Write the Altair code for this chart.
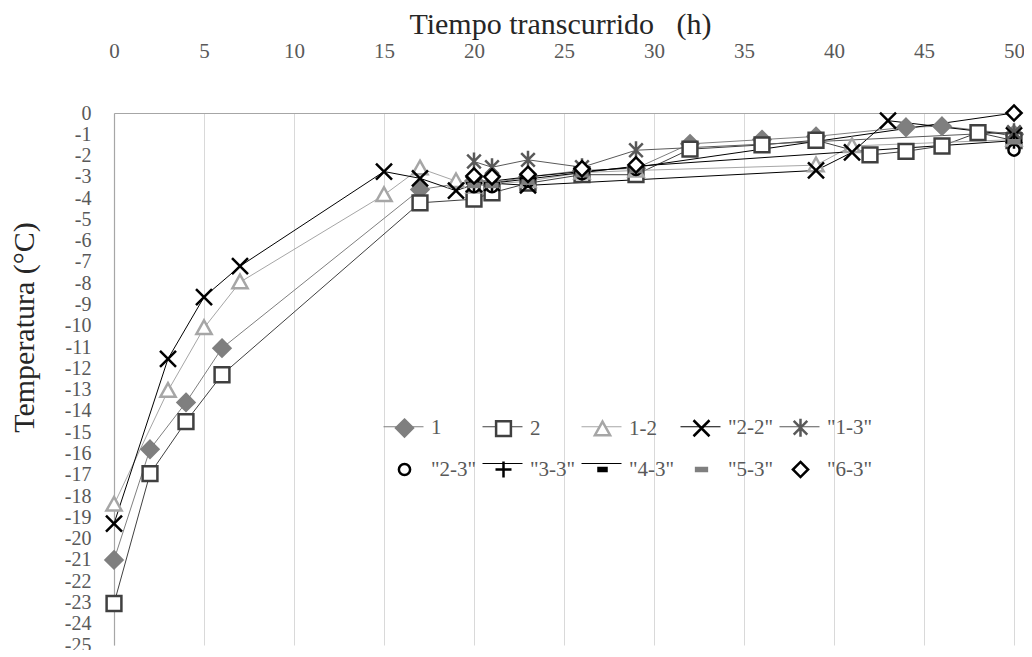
import altair as alt
import pandas as pd

series_names = ["1", "2", "1-2", '"2-2"', '"1-3"', '"2-3"', '"3-3"', '"4-3"', '"5-3"', '"6-3"']

hours_1 = [0, 2, 4, 6, 17, 20, 21, 23, 26, 29, 32, 36, 39, 44, 46, 50]
temp_1 = [-21.0, -15.8, -13.6, -11.05, -3.6, -3.2, -3.3, -3.0, -2.7, -2.6, -1.45, -1.25, -1.1, -0.67, -0.62, -1.0]

hours_2 = [0, 2, 4, 6, 17, 20, 21, 23, 26, 29, 32, 36, 39, 42, 44, 46, 48, 50]
temp_2 = [-23.05, -16.95, -14.5, -12.3, -4.22, -4.05, -3.75, -3.3, -2.9, -2.9, -1.7, -1.5, -1.28, -1.97, -1.8, -1.55, -0.92, -1.3]

hours_12 = [0, 3, 5, 7, 15, 17, 19, 20, 21, 23, 26, 29, 39, 41, 50]
temp_12 = [-18.4, -13.05, -10.1, -7.95, -3.85, -2.6, -3.2, -3.45, -3.35, -3.2, -2.8, -2.7, -2.45, -1.55, -1.25]

hours_22 = [0, 3, 5, 7, 15, 17, 19, 20, 21, 23, 39, 41, 43, 50]
temp_22 = [-19.3, -11.55, -8.65, -7.2, -2.75, -3.07, -3.65, -3.35, -3.3, -3.4, -2.7, -1.85, -0.36, -1.05]

hours_3 = [20, 21, 23, 26, 29, 50]
temp_13 = [-2.28, -2.55, -2.2, -2.55, -1.75, -0.9]
temp_23 = [-3.46, -3.46, -3.2, -2.85, -2.65, -1.74]
temp_33 = [-3.3, -3.3, -3.1, -2.8, -2.5, -1.3]
temp_43 = [-3.2, -3.2, -3.0, -2.75, -2.55, 0.0]
temp_53 = [-3.4, -3.4, -3.25, -2.9, -2.7, -1.35]
temp_63 = [-2.96, -3.0, -2.88, -2.62, -2.44, 0.0]

series_hours = [hours_1, hours_2, hours_12, hours_22, hours_3, hours_3, hours_3, hours_3, hours_3, hours_3]
series_temps = [temp_1, temp_2, temp_12, temp_22, temp_13, temp_23, temp_33, temp_43, temp_53, temp_63]

rows = []
for order, (name, hs, ts) in enumerate(zip(series_names, series_hours, series_temps)):
    for h, t in zip(hs, ts):
        rows.append({"serie": name, "orden": order, "horas": h, "temp": t})
df = pd.DataFrame(rows)

line_colors = ["#7f7f7f", "#404040", "#a6a6a6", "#000000", "#595959",
               "transparent", "#000000", "#000000", "transparent", "transparent"]
stroke_colors = ["#7f7f7f", "#404040", "#a6a6a6", "#000000", "#595959",
                 "#000000", "#000000", "#000000", "#7f7f7f", "#000000"]
fill_colors = ["#7f7f7f", "white", "white", "white", "white",
               "white", "white", "#000000", "#7f7f7f", "white"]
shape_paths = [
    "M0,-0.42L0.42,0L0,0.42L-0.42,0Z",
    "M-0.37,-0.37H0.37V0.37H-0.37Z",
    "M0,-0.38L0.38,0.3H-0.38Z",
    "M-0.4,-0.4L0.4,0.4M-0.4,0.4L0.4,-0.4",
    "M-0.34,-0.34L0.34,0.34M-0.34,0.34L0.34,-0.34M0,-0.45V0.45",
    "M-0.28,0A0.28,0.28,0,1,0,0.28,0A0.28,0.28,0,1,0,-0.28,0Z",
    "M-0.4,0H0.4M0,-0.4V0.4",
    "M-0.2,-0.07H0.2V0.07H-0.2Z",
    "M-0.27,-0.08H0.27V0.08H-0.27Z",
    "M0,-0.38L0.38,0L0,0.38L-0.38,0Z",
]


def lookup_expr(values):
    expr = "'black'"
    for name, val in reversed(list(zip(series_names, values))):
        expr = "datum.value === '" + name + "' ? '" + val + "' : (" + expr + ")"
    return expr


FONT = "Liberation Serif"
LEG_X, LEG_Y = 269, 293
LABEL_OFFSET = 5
MAX_LABEL_W = 45.1  # width of '"2-2"' at 21px Liberation Serif

x_enc = alt.X(
    "horas:Q",
    scale=alt.Scale(domain=[0, 50], nice=False),
    axis=alt.Axis(
        orient="top", values=list(range(0, 51, 5)), grid=True, gridColor="#d9d9d9",
        ticks=False, domainColor="#a6a6a6", domainWidth=1.2, labelPadding=52,
        labelFont=FONT, labelFontSize=21, labelColor="#595959", labelFlush=False,
        title="Tiempo transcurrido\u00a0\u00a0\u00a0(h)", titleFont=FONT, titleFontSize=30,
        titleFontWeight="normal", titleColor="#262626",
        titleX=446, titleY=-74, titleAlign="center", titleBaseline="bottom",
    ),
)
y_enc = alt.Y(
    "temp:Q",
    scale=alt.Scale(domain=[-25, 0], nice=False),
    axis=alt.Axis(
        values=list(range(-25, 1)), grid=False, ticks=False, domainColor="#a6a6a6",
        domainWidth=1.2, labelPadding=23, labelOverlap=False, labelFlush=False,
        labelFont=FONT, labelFontSize=20, labelColor="#595959",
        labelExpr="datum.value < 0 ? '-' + (-datum.value) : '' + datum.value",
        title="Temperatura (°C)", titleFont=FONT, titleFontSize=30,
        titleFontWeight="normal", titleColor="#262626",
        titleAngle=270, titleX=-75, titleY=214, titleAlign="center", titleBaseline="bottom",
    ),
)

common_legend = dict(
    title=None, orient="none", direction="horizontal", legendX=LEG_X, legendY=LEG_Y,
    columns=5, gridAlign="all", columnPadding=5, rowPadding=6, symbolSize=1600,
    labelFont=FONT, labelFontSize=21, padding=0, labelLimit=0,
)

lines = alt.Chart(df).mark_line(strokeWidth=1).encode(
    x=x_enc,
    y=y_enc,
    color=alt.Color(
        "orden:N",
        scale=alt.Scale(domain=list(range(len(series_names))), range=line_colors),
        legend=alt.Legend(
            symbolType="M-1,0H1", symbolStrokeWidth=1, labelOpacity=0,
            labelExpr="''", labelOffset=LABEL_OFFSET + MAX_LABEL_W,
            **common_legend,
        ),
    ),
    order=alt.Order("horas:Q"),
)

pt_legend = alt.Legend(
    symbolStrokeWidth=2.5, labelColor="#595959", labelOffset=LABEL_OFFSET,
    symbolFillColor=alt.ExprRef(expr=lookup_expr(fill_colors)),
    symbolStrokeColor=alt.ExprRef(expr=lookup_expr(stroke_colors)),
    symbolOpacity=1,
    **common_legend,
)
points = alt.Chart(df).mark_point(filled=True, size=1600, strokeWidth=2.5, opacity=1).encode(
    x=x_enc,
    y=y_enc,
    shape=alt.Shape("serie:N", scale=alt.Scale(domain=series_names, range=shape_paths), legend=pt_legend),
    stroke=alt.Stroke("serie:N", scale=alt.Scale(domain=series_names, range=stroke_colors), legend=None),
    fill=alt.Fill("serie:N", scale=alt.Scale(domain=series_names, range=fill_colors), legend=None),
    order=alt.Order("orden:Q"),
)

chart = (
    alt.layer(lines, points)
    .properties(
        width=900, height=532,
        autosize=alt.AutoSizeParams(type="none"),
        padding={"left": 106, "top": 105, "right": 10, "bottom": 5},
        background="white",
    )
    .configure_view(strokeWidth=0)
)

chart.save("out.html", embed_options={"renderer": "svg", "actions": False})
